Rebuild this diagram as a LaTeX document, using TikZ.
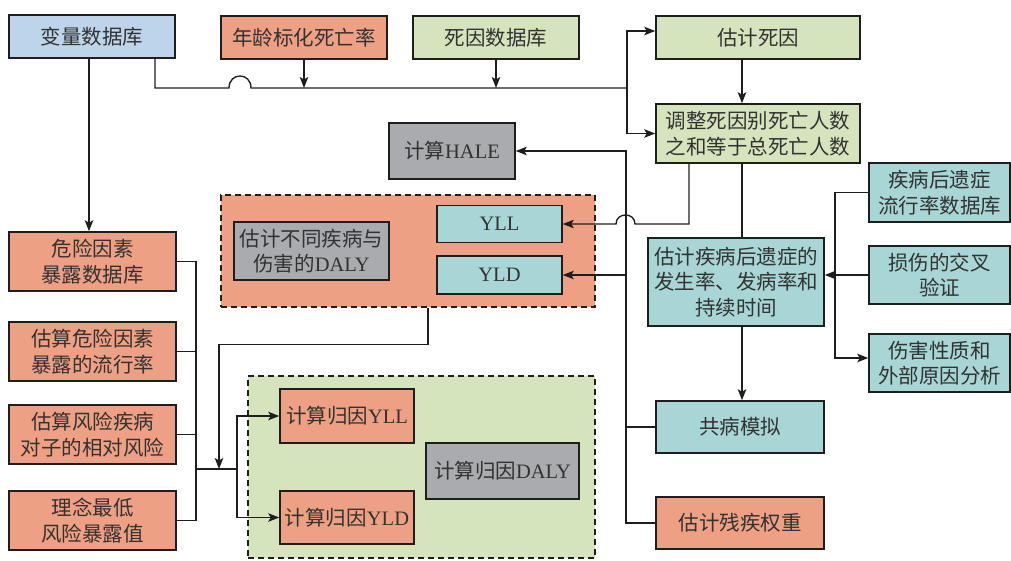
\documentclass[tikz,border=0pt]{standalone}
\usepackage{fontspec}
\setmainfont{Noto Sans CJK SC}
\newfontfamily\latf{Liberation Serif}
\newcommand\lt[1]{{\latf #1}}
\usetikzlibrary{arrows.meta}
\definecolor{cblue}{RGB}{189,212,234}
\definecolor{csal}{RGB}{237,160,131}
\definecolor{cgrn}{RGB}{214,228,190}
\definecolor{cteal}{RGB}{168,214,214}
\definecolor{cgray}{RGB}{170,171,175}
\definecolor{ctxt}{RGB}{50,50,50}
\definecolor{cline}{RGB}{30,30,30}
\begin{document}
\begin{tikzpicture}[x=1pt,y=-1pt,
  box/.style={draw=cline, line width=1.5pt, inner sep=0pt, align=center, text=ctxt,
    font=\fontsize{20.5}{25.5}\selectfont},
  sz/.style args={#1/#2}{minimum width=#1pt, minimum height=#2pt},
  group/.style={draw=cline, line width=1.2pt, dash pattern=on 6pt off 4pt, inner sep=0pt},
  ln/.style={draw=cline, line width=1.35pt},
  arr/.style={-{Stealth[length=11pt,width=8.5pt,inset=2.5pt]}}
]
\useasboundingbox (0,0) rectangle (1011,560);
% containers
\node[group, fill=csal, sz=374/112] (sbox) at (408,251) {};
\node[group, fill=cgrn, sz=347/182] (gbox) at (421.5,467) {};
% top row
\node[box, fill=cblue, sz=166/43] (v) at (92,36.5) {变量数据库};
\node[box, fill=csal, sz=166/43] (a) at (304,37.5) {年龄标化死亡率};
\node[box, fill=cgrn, sz=166/43] (d) at (496,37.5) {死因数据库};
\node[box, fill=cgrn, sz=204/43] (e) at (758,37.5) {估计死因};
\node[box, fill=cgrn, sz=204/59] (adj) at (758,133.5) {调整死因别死亡人数\\之和等于总死亡人数};
\node[box, fill=cgray, sz=126/56] (hale) at (452,151) {计算\lt{HALE}};
% DALY group
\node[box, fill=cgray, sz=155/58] (daly) at (311.5,251) {估计不同疾病与\\伤害的\lt{DALY}};
\node[box, fill=cteal, sz=125/37] (yll) at (499.5,224) {\lt{YLL}};
\node[box, fill=cteal, sz=125/38] (yld) at (499.5,275) {\lt{YLD}};
% left column
\node[box, fill=csal, sz=167/59] (r1) at (92.5,261.5) {危险因素\\暴露数据库};
\node[box, fill=csal, sz=167/59] (r2) at (92.5,351.5) {估算危险因素\\暴露的流行率};
\node[box, fill=csal, sz=167/59] (r3) at (92.5,434.5) {估算风险疾病\\对子的相对风险};
\node[box, fill=csal, sz=167/59] (r4) at (92.5,520.5) {理念最低\\风险暴露值};
% attributable group
\node[box, fill=csal, sz=134/54] (ayll) at (347,416) {计算归因\lt{YLL}};
\node[box, fill=csal, sz=134/53] (ayld) at (347,517.5) {计算归因\lt{YLD}};
\node[box, fill=cgray, sz=153/56] (adaly) at (502.5,471) {计算归因\lt{DALY}};
% right part
\node[box, fill=cteal, sz=176/88] (est) at (736,282) {估计疾病后遗症的\\发生率、发病率和\\持续时间};
\node[box, fill=cteal, sz=141/59] (s1) at (939.5,192.5) {疾病后遗症\\流行率数据库};
\node[box, fill=cteal, sz=141/58] (s2) at (939.5,275) {损伤的交叉\\验证};
\node[box, fill=cteal, sz=141/58] (s3) at (939.5,363) {伤害性质和\\外部原因分析};
\node[box, fill=cteal, sz=168/52] (com) at (740,427) {共病模拟};
\node[box, fill=csal, sz=168/52] (dw) at (740,523) {估计残疾权重};
% helper coordinates
\coordinate (hA1) at (229,88);
\coordinate (hA2) at (251,88);
\coordinate (bus) at (627,88);
\coordinate (hB1) at (635,224);
\coordinate (hB2) at (616,224);
\coordinate (vx) at (626,0);
\coordinate (rx) at (835,0);
\coordinate (cx) at (742,0);
\coordinate (lx) at (89,0);
\coordinate (bx) at (196,0);
\coordinate (jn) at (237,469);
\coordinate (ja) at (219,469);
% connectors
\draw[ln] ([xshift=63pt]v.south) |- (hA1) .. controls ([yshift=16pt]hA1) and ([yshift=16pt]hA2) .. (hA2) -- (bus);
\draw[ln,arr] (bus) |- ([yshift=6.5pt]e.west);
\draw[ln,arr] (bus) |- (adj.west);
\draw[ln,arr] (a.south) -- (a.south |- bus);
\draw[ln,arr] (d.south) -- (d.south |- bus);
\draw[ln,arr] (e.south -| cx) -- (adj.north -| cx);
\draw[ln] (adj.south -| cx) -- (est.north -| cx);
\draw[ln,arr] (est.south -| cx) -- (com.north -| cx);
\draw[ln,arr] ([xshift=-69pt]adj.south) |- (hB1) .. controls ([yshift=12pt]hB1) and ([yshift=12pt]hB2) .. (hB2) -- (yll.east);
\draw[ln,arr] (dw.west) -- (dw.west -| vx) |- (hale.east);
\draw[ln] (com.west) -- (com.west -| vx);
\draw[ln,arr] (yld.east -| vx) -- (yld.east);
\draw[ln,arr] (s1.west) -- (s1.west -| rx) |- ([yshift=5pt]s3.west);
\draw[ln,arr] (s2.west) -- (s2.west -| est.east);
\draw[ln,arr] (v.south -| lx) -- (r1.north -| lx);
\draw[ln] (r1.east) -- (r1.east -| bx) -- (r4.east -| bx) -- (r4.east);
\draw[ln] (r2.east) -- (r2.east -| bx);
\draw[ln] (r3.east) -- (r3.east -| bx);
\draw[ln] (bx |- jn) -- (jn);
\draw[ln,arr] (jn) |- (ayll.west);
\draw[ln,arr] (jn) |- (ayld.west);
\draw[ln,arr] ([xshift=20pt]sbox.south) -- ++(0,37) -| (ja);
\end{tikzpicture}
\end{document}
